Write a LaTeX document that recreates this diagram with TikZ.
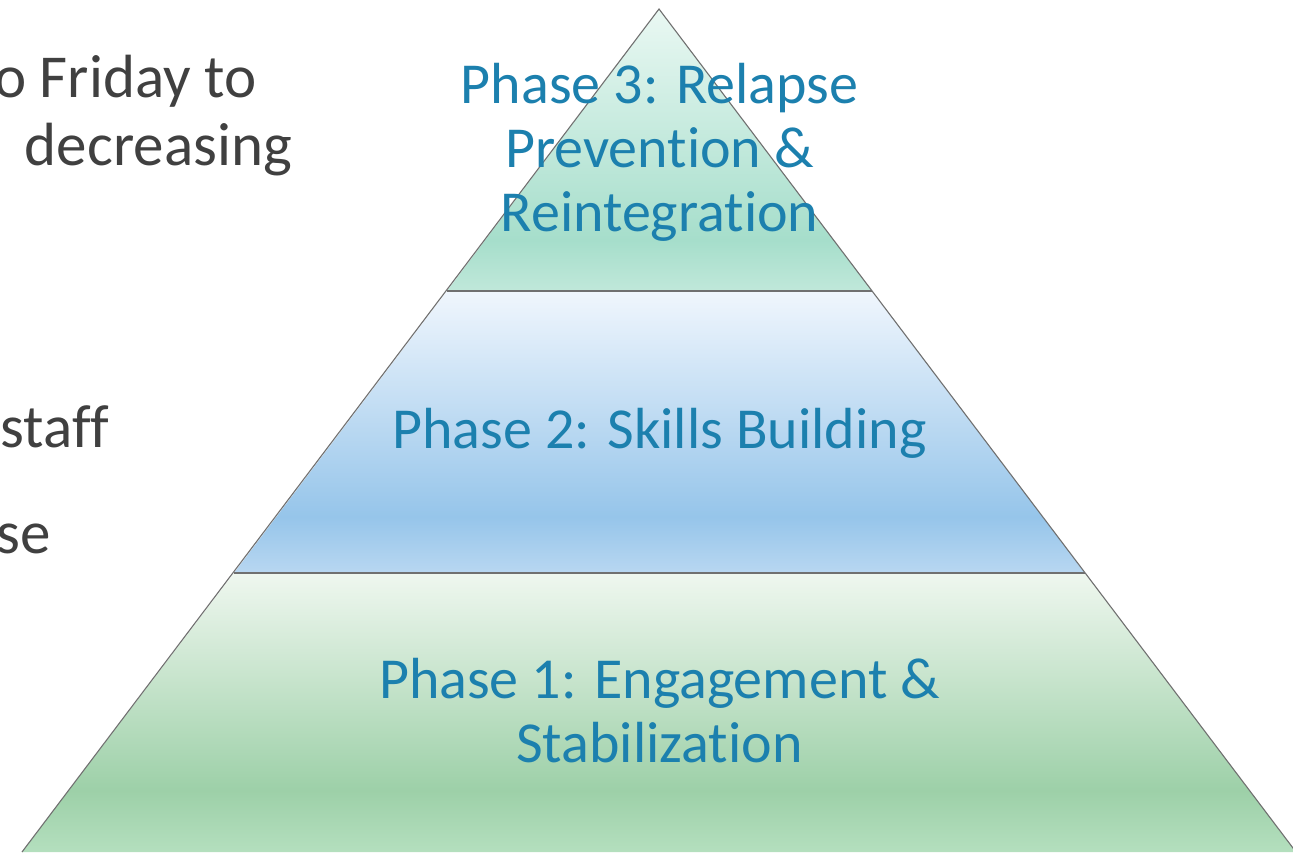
\documentclass[tikz,border=0pt]{standalone}
\usepackage{fontspec}
\setmainfont[Ligatures=NoCommon]{Carlito}
\definecolor{phasetxt}{RGB}{28,128,174}
\definecolor{bodytxt}{RGB}{64,64,64}
\definecolor{edge}{RGB}{112,112,112}
\definecolor{tA}{RGB}{234,248,243}
\definecolor{tB}{RGB}{166,222,203}
\definecolor{tC}{RGB}{192,232,218}
\definecolor{mA}{RGB}{240,246,253}
\definecolor{mB}{RGB}{150,197,234}
\definecolor{mC}{RGB}{184,215,241}
\definecolor{bA}{RGB}{239,247,239}
\definecolor{bB}{RGB}{157,208,168}
\definecolor{bC}{RGB}{180,223,190}
\pgfdeclareverticalshading{topshade}{100bp}{color(0bp)=(tC); color(25bp)=(tC); color(34bp)=(tB); color(75bp)=(tA); color(100bp)=(tA)}
\pgfdeclareverticalshading{midshade}{100bp}{color(0bp)=(mC); color(25bp)=(mC); color(35bp)=(mB); color(75bp)=(mA); color(100bp)=(mA)}
\pgfdeclareverticalshading{botshade}{100bp}{color(0bp)=(bC); color(25bp)=(bC); color(36bp)=(bB); color(75bp)=(bA); color(100bp)=(bA)}
\tikzset{
  tier/.style={draw=edge, line width=1.1pt, line join=miter},
  phaselabel/.style={text=phasetxt, font=\fontsize{58}{64}\selectfont, align=center, inner sep=0pt},
  bodylabel/.style={text=bodytxt, font=\fontsize{61}{68}\selectfont, inner sep=0pt, anchor=base east},
}
\begin{document}
\begin{tikzpicture}[x=1pt,y=-1pt]
\useasboundingbox (0,0) rectangle (1293,852);
% pyramid corners
\coordinate (apex) at (659,9);
\coordinate (l1) at (447,291);
\coordinate (r1) at (872,291);
\coordinate (l2) at (234,573);
\coordinate (r2) at (1085,573);
\coordinate (l3) at (22,852);
\coordinate (r3) at (1296,852);
% tiers
\path[shading=botshade] (l2) -- (r2) -- (r3) -- (l3) -- cycle;
\path[shading=midshade] (l1) -- (r1) -- (r2) -- (l2) -- cycle;
\path[shading=topshade] (apex) -- (r1) -- (l1) -- cycle;
\draw[tier] (l3) -- (apex) -- (r3);
\draw[tier] (l1) -- (r1);
\draw[tier] (l2) -- (r2);
% left body text (cut at the margin)
\node[bodylabel] (b1) at (257,97) {o Friday to};
\node[bodylabel] (b2) at (292,165) {decreasing};
\node[bodylabel] (b3) at (109,447) {staff};
\node[bodylabel] (b4) at (51,553) {se};
% phase labels (base anchor = last line's baseline)
\node[phaselabel, anchor=base] (p3) at (659.5,231) {Phase 3: Relapse\\Prevention \&\\Reintegration};
\node[phaselabel, anchor=base] (p2) at (659.5,448) {Phase 2: Skills Building};
\node[phaselabel, anchor=base] (p1) at (659.5,762) {Phase 1: Engagement \&\\Stabilization};
\end{tikzpicture}
\end{document}
